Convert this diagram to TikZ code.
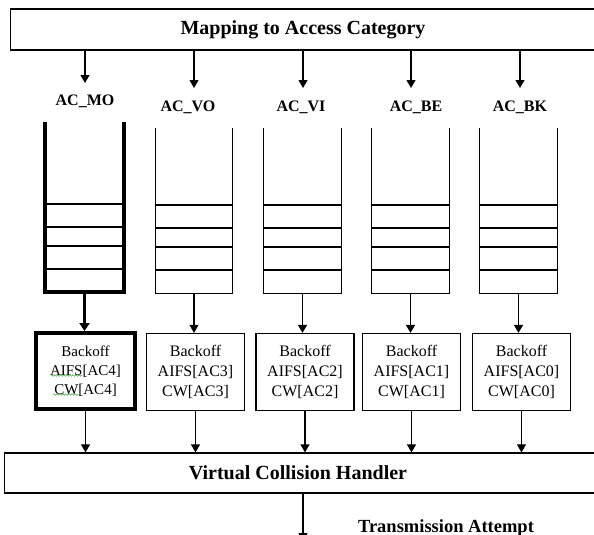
\documentclass[tikz,border=0pt]{standalone}
\usepackage{fontspec}
\setmainfont{Liberation Serif}
\usetikzlibrary{arrows.meta,decorations.pathmorphing}
\definecolor{squig}{RGB}{80,170,80}
\begin{document}
\begin{tikzpicture}[x=1pt,y=-1pt,
  box/.style={draw,line width=1.2pt,inner sep=0pt},
  thickbox/.style={draw,line width=4pt,inner sep=0pt},
  bigtitle/.style={font=\fontsize{20}{24}\selectfont\bfseries,inner sep=0pt},
  aclabel/.style={font=\fontsize{16}{19}\selectfont\bfseries,inner sep=0pt,text height=11pt,text depth=1pt},
  bofftext/.style={align=center,font=\fontsize{16}{20}\selectfont},
  bofftextmo/.style={align=center,font=\fontsize{15}{19}\selectfont},
  arr/.style={line width=1.1pt,-{Triangle[length=8pt,width=9pt]}},
  thickarr/.style={line width=3pt,-{Triangle[length=8pt,width=10pt]}},
  queue/.style={draw=none,inner sep=0pt,minimum width=77pt,minimum height=165pt},
  queuemo/.style={draw=none,inner sep=0pt,minimum width=79pt,minimum height=170pt},
  qwall/.style={line width=1pt},
  qwallmo/.style={line width=4pt},
  qline/.style={line width=2pt},
  squiggle/.style={draw=squig,line width=0.6pt,decorate,decoration={snake,amplitude=0.8pt,segment length=3pt}}
]
\useasboundingbox (0,0) rectangle (594,535);
\clip (0,0) rectangle (594,535);

% top box
\node[box,minimum width=600pt,minimum height=41pt,anchor=west] (map) at (10,29.5) {};
\node[bigtitle] (maptext) at (303,29.5) {Mapping to Access Category};

% arrow tips and labels
\coordinate (tmo) at (85,83);
\coordinate (tvo) at (194,88);
\coordinate (tvi) at (303,88);
\coordinate (tbe) at (411,88);
\coordinate (tbk) at (520,88);
\foreach \t in {tmo,tvo,tvi,tbe,tbk}{
  \draw[arr] (map.south -| \t) -- (\t);
}
\node[aclabel] (lmo) at (85,100) {AC\_MO};
\node[aclabel] (lvo) at (188,106) {AC\_VO};
\node[aclabel] (lvi) at (301,106) {AC\_VI};
\node[aclabel] (lbe) at (416,106) {AC\_BE};
\node[aclabel] (lbk) at (520,106) {AC\_BK};

% queues
\node[queuemo] (qmo) at (84.5,207.25) {};
\draw[qwallmo] (qmo.north west) -- (qmo.south west) -- (qmo.south east) -- (qmo.north east);
\foreach \s in {23.5,46.5,65.5,88.5}{
  \draw[qline] ([yshift=\s pt]qmo.south west) -- ([yshift=\s pt]qmo.south east);
}
\foreach \n/\x in {qvo/194,qvi/302.5,qbe/410.5,qbk/518.5}{
  \node[queue] (\n) at (\x,210.5) {};
  \draw[qwall] (\n.north west) -- (\n.south west) -- (\n.south east) -- (\n.north east);
  \foreach \s in {23.5,46.5,65.5,88.5}{
    \draw[qline] ([yshift=\s pt]\n.south west) -- ([yshift=\s pt]\n.south east);
  }
}

% backoff boxes
\node[thickbox,minimum width=99pt,minimum height=76pt,bofftextmo] (bmo) at (85.5,371) {Backoff\\AIFS[AC4]\\CW[AC4]};
\node[box,minimum width=98pt,minimum height=77pt,bofftext] (bvo) at (195.5,372) {Backoff\\AIFS[AC3]\\CW[AC3]};
\node[box,minimum width=98pt,minimum height=77pt,bofftext] (bvi) at (305,372) {Backoff\\AIFS[AC2]\\CW[AC2]};
\node[box,minimum width=98pt,minimum height=77pt,bofftext] (bbe) at (411.5,372) {Backoff\\AIFS[AC1]\\CW[AC1]};
\node[box,minimum width=98pt,minimum height=77pt,bofftext] (bbk) at (521.5,372) {Backoff\\AIFS[AC0]\\CW[AC0]};

% spell-check squiggles
\draw[squiggle] (51,375.5) -- (82,375.5);
\draw[squiggle] (53,394.5) -- (78,394.5);

% queue -> backoff
\draw[thickarr] (qmo.south) -- (qmo.south |- bmo.north);
\draw[arr] (qvo.south) -- (qvo.south |- bvo.north);
\draw[arr] (qvi.south) -- (qvi.south |- bvi.north);
\draw[arr] (qbe.south) -- (qbe.south |- bbe.north);
\draw[arr] (qbk.south) -- (qbk.south |- bbk.north);

% virtual collision handler
\node[box,minimum width=600pt,minimum height=40pt,anchor=west] (vch) at (4,473) {};
\node[bigtitle] (vchtext) at (298,473) {Virtual Collision Handler};

\foreach \b in {bmo,bvo,bvi,bbe,bbk}{
  \draw[arr] (\b.south) -- (\b.south |- vch.north);
}

% transmission
\coordinate (tx) at (303,541);
\draw[arr] (vch.south -| tx) -- (tx);
\node[font=\fontsize{18.5}{22}\selectfont\bfseries,inner sep=0pt] (trans) at (446,528.5) {Transmission Attempt};
\end{tikzpicture}
\end{document}
